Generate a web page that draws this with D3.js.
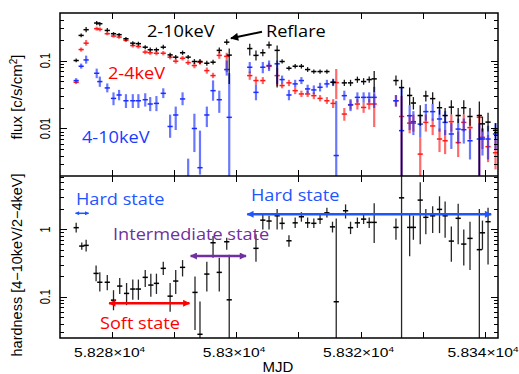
<!DOCTYPE html>
<html>
<head>
<meta charset="utf-8">
<script src="https://cdn.jsdelivr.net/npm/d3@7"></script>
<style>
  body { margin: 0; background: #fff; }
  svg { display: block; }
</style>
</head>
<body>
<svg id="chart" width="519" height="374"></svg>
<script>
// [MJD, value, lower bound, upper bound]
const flux2to10 = [
  [58274.3, 0.100, 0.094, 0.107], [58275.1, 0.234, 0.22, 0.25], [58275.9, 0.284, 0.26, 0.31],
  [58277.6, 0.356, 0.33, 0.38], [58278.1, 0.348, 0.32, 0.37], [58279.3, 0.277, 0.26, 0.30],
  [58280.3, 0.248, 0.235, 0.262], [58281.2, 0.240, 0.225, 0.255], [58282.3, 0.209, 0.195, 0.222],
  [58283.4, 0.180, 0.168, 0.192], [58284.3, 0.177, 0.165, 0.189], [58285.4, 0.157, 0.147, 0.168],
  [58286.2, 0.144, 0.134, 0.155], [58287.2, 0.144, 0.134, 0.155], [58288.3, 0.157, 0.146, 0.170],
  [58289.4, 0.121, 0.112, 0.130], [58290.3, 0.112, 0.104, 0.121], [58291.4, 0.130, 0.121, 0.140],
  [58292.3, 0.112, 0.104, 0.121], [58293.3, 0.0967, 0.089, 0.105], [58294.2, 0.0967, 0.089, 0.105],
  [58295.3, 0.0912, 0.084, 0.099], [58296.3, 0.0944, 0.087, 0.103], [58297.3, 0.141, 0.128, 0.155],
  [58298.5, 0.186, 0.170, 0.205], [58298.9, 0.12, 0.045, 0.15], [58302.2, 0.150, 0.119, 0.177],
  [58303.2, 0.119, 0.100, 0.140], [58304.3, 0.130, 0.116, 0.146], [58305.3, 0.169, 0.150, 0.190],
  [58306.6, 0.141, 0.040, 0.166], [58307.4, 0.0967, 0.090, 0.104], [58308.5, 0.0769, 0.071, 0.083],
  [58309.5, 0.0824, 0.076, 0.089], [58310.5, 0.0824, 0.076, 0.089], [58311.5, 0.0736, 0.068, 0.080],
  [58312.5, 0.0688, 0.064, 0.074], [58313.5, 0.0688, 0.064, 0.074], [58314.6, 0.0688, 0.064, 0.074],
  [58315.6, 0.0478, 0.043, 0.053], [58317.4, 0.0469, 0.042, 0.052], [58318.4, 0.0469, 0.042, 0.052],
  [58319.5, 0.0524, 0.047, 0.058], [58320.5, 0.049, 0.044, 0.055], [58321.4, 0.0524, 0.047, 0.058],
  [58322.2, 0.0537, 0.034, 0.070], [58325.7, 0.0507, 0.043, 0.060], [58326.6, 0.040, 0.0018, 0.052],
  [58327.9, 0.0306, 0.022, 0.040], [58328.5, 0.0237, 0.019, 0.029], [58329.6, 0.0155, 0.011, 0.022],
  [58330.5, 0.0301, 0.025, 0.036], [58331.6, 0.0275, 0.023, 0.034], [58332.7, 0.0202, 0.016, 0.025],
  [58333.6, 0.0155, 0.012, 0.020], [58334.6, 0.0206, 0.016, 0.026], [58335.7, 0.0155, 0.012, 0.020],
  [58336.6, 0.0202, 0.016, 0.026], [58337.6, 0.015, 0.011, 0.020], [58339.1, 0.0155, 0.0018, 0.025],
  [58339.6, 0.0117, 0.009, 0.015], [58340.5, 0.0124, 0.009, 0.017], [58341.7, 0.0094, 0.007, 0.012]
];
const flux2to4 = [
  [58274.3, 0.0478, 0.045, 0.051], [58275.1, 0.145, 0.135, 0.155], [58275.9, 0.180, 0.165, 0.200],
  [58277.6, 0.294, 0.275, 0.315], [58278.1, 0.287, 0.268, 0.307], [58279.3, 0.248, 0.235, 0.262],
  [58280.3, 0.229, 0.217, 0.242], [58281.2, 0.221, 0.209, 0.234], [58282.3, 0.198, 0.187, 0.210],
  [58283.4, 0.166, 0.155, 0.177], [58284.3, 0.161, 0.150, 0.172], [58285.4, 0.133, 0.124, 0.143],
  [58286.2, 0.130, 0.121, 0.140], [58287.2, 0.128, 0.119, 0.138], [58288.3, 0.128, 0.119, 0.138],
  [58289.4, 0.112, 0.104, 0.121], [58290.3, 0.0977, 0.090, 0.106], [58291.4, 0.108, 0.100, 0.117],
  [58292.3, 0.093, 0.086, 0.101], [58293.3, 0.0843, 0.077, 0.092], [58294.2, 0.0944, 0.087, 0.102],
  [58295.3, 0.0711, 0.064, 0.079], [58296.3, 0.060, 0.055, 0.066], [58297.3, 0.119, 0.106, 0.133],
  [58298.5, 0.115, 0.068, 0.13], [58302.2, 0.060, 0.052, 0.069], [58303.2, 0.0507, 0.044, 0.058],
  [58304.3, 0.0507, 0.045, 0.057], [58305.3, 0.0824, 0.074, 0.092], [58306.6, 0.060, 0.042, 0.078],
  [58307.4, 0.0428, 0.039, 0.047], [58308.5, 0.0469, 0.042, 0.052], [58309.5, 0.036, 0.032, 0.040],
  [58310.5, 0.0322, 0.029, 0.036], [58311.5, 0.0322, 0.029, 0.036], [58312.5, 0.0304, 0.027, 0.034],
  [58313.5, 0.0277, 0.025, 0.031], [58314.6, 0.0256, 0.023, 0.029], [58315.6, 0.0234, 0.020, 0.027],
  [58316.1, 0.0473, 0.027, 0.075], [58317.4, 0.0163, 0.013, 0.020], [58318.4, 0.0224, 0.019, 0.026],
  [58319.5, 0.0229, 0.019, 0.027], [58320.5, 0.0204, 0.017, 0.024], [58321.4, 0.0229, 0.019, 0.027],
  [58322.2, 0.0229, 0.0105, 0.032], [58325.7, 0.0256, 0.021, 0.031], [58326.6, 0.015, 0.0018, 0.03],
  [58327.9, 0.012, 0.0085, 0.016], [58328.5, 0.012, 0.009, 0.016], [58329.6, 0.0042, 0.0018, 0.0075],
  [58330.5, 0.0123, 0.009, 0.016], [58331.6, 0.0109, 0.008, 0.014], [58332.7, 0.007, 0.0045, 0.010],
  [58333.6, 0.0066, 0.0042, 0.0095], [58334.6, 0.0126, 0.009, 0.016], [58335.7, 0.0062, 0.0038, 0.009],
  [58336.6, 0.0123, 0.009, 0.016], [58337.6, 0.0103, 0.007, 0.014], [58339.1, 0.0146, 0.0018, 0.016],
  [58339.6, 0.0074, 0.005, 0.010], [58340.5, 0.0054, 0.0032, 0.008], [58341.7, 0.0044, 0.0025, 0.007]
];
const flux4to10 = [
  [58274.3, 0.0507, 0.047, 0.055], [58275.1, 0.0824, 0.076, 0.090], [58275.9, 0.102, 0.090, 0.118],
  [58277.6, 0.0649, 0.055, 0.076], [58278.1, 0.049, 0.041, 0.058], [58279.3, 0.0395, 0.034, 0.046],
  [58280.3, 0.0277, 0.022, 0.034], [58281.2, 0.0311, 0.026, 0.037], [58282.3, 0.0256, 0.020, 0.032],
  [58283.4, 0.0256, 0.020, 0.032], [58284.3, 0.0256, 0.020, 0.032], [58285.4, 0.0265, 0.021, 0.033],
  [58286.2, 0.0229, 0.018, 0.029], [58287.2, 0.0234, 0.018, 0.030], [58288.3, 0.0329, 0.028, 0.039],
  [58289.4, 0.0107, 0.0073, 0.016], [58290.3, 0.0158, 0.0095, 0.021], [58291.4, 0.0272, 0.022, 0.034],
  [58292.3, 0.0019, 0.001, 0.0036], [58293.3, 0.010, 0.0045, 0.0165], [58294.2, 0.00265, 0.0021, 0.0093],
  [58295.3, 0.0158, 0.0105, 0.021], [58296.3, 0.036, 0.0256, 0.051], [58297.3, 0.0265, 0.017, 0.036],
  [58298.5, 0.0736, 0.06, 0.10], [58298.9, 0.0146, 0.0015, 0.065], [58302.2, 0.0796, 0.065, 0.095],
  [58303.2, 0.034, 0.026, 0.044], [58304.3, 0.0796, 0.065, 0.095], [58305.3, 0.0843, 0.07, 0.1],
  [58306.6, 0.0894, 0.045, 0.1], [58307.4, 0.0524, 0.046, 0.060], [58308.5, 0.0311, 0.026, 0.037],
  [58309.5, 0.0453, 0.040, 0.052], [58310.5, 0.0507, 0.045, 0.057], [58311.5, 0.0382, 0.033, 0.044],
  [58312.5, 0.0369, 0.032, 0.043], [58313.5, 0.0404, 0.035, 0.047], [58314.6, 0.0453, 0.040, 0.052],
  [58315.6, 0.0478, 0.042, 0.054], [58316.1, 0.004, 0.0015, 0.0256], [58317.4, 0.0304, 0.026, 0.036],
  [58318.4, 0.0222, 0.018, 0.027], [58319.5, 0.0287, 0.024, 0.034], [58320.5, 0.0287, 0.024, 0.034],
  [58321.4, 0.0287, 0.024, 0.034], [58322.2, 0.0287, 0.020, 0.041], [58325.7, 0.0256, 0.021, 0.031],
  [58326.6, 0.0093, 0.0015, 0.040], [58327.9, 0.0154, 0.0095, 0.022], [58328.5, 0.0126, 0.008, 0.018],
  [58329.6, 0.0116, 0.0075, 0.016], [58330.5, 0.0177, 0.013, 0.023], [58331.6, 0.0177, 0.013, 0.023],
  [58332.7, 0.0138, 0.009, 0.019], [58333.6, 0.0123, 0.008, 0.018], [58334.6, 0.0083, 0.005, 0.012],
  [58335.7, 0.0098, 0.006, 0.014], [58336.6, 0.0096, 0.006, 0.014], [58337.6, 0.0066, 0.0035, 0.0098],
  [58339.1, 0.007, 0.0015, 0.012], [58339.6, 0.007, 0.004, 0.010], [58340.5, 0.007, 0.0035, 0.011],
  [58341.7, 0.0083, 0.005, 0.012]
];
const hardness = [
  [58274.3, 1.06, 0.90, 1.25], [58275.2, 0.565, 0.50, 0.64], [58275.9, 0.579, 0.47, 0.70],
  [58277.5, 0.222, 0.17, 0.29], [58278.1, 0.164, 0.12, 0.23], [58279.3, 0.164, 0.125, 0.21],
  [58280.3, 0.089, 0.063, 0.125], [58281.3, 0.144, 0.11, 0.19], [58282.4, 0.112, 0.075, 0.16],
  [58283.4, 0.13, 0.09, 0.18], [58284.3, 0.13, 0.09, 0.18], [58285.4, 0.194, 0.14, 0.25],
  [58286.3, 0.149, 0.10, 0.22], [58287.2, 0.158, 0.11, 0.22], [58288.3, 0.264, 0.21, 0.33],
  [58289.4, 0.102, 0.06, 0.16], [58290.3, 0.171, 0.11, 0.25], [58291.4, 0.273, 0.20, 0.35],
  [58293.4, 0.116, 0.032, 0.20], [58294.2, 0.0277, 0.024, 0.085], [58295.3, 0.217, 0.12, 0.33],
  [58296.3, 0.633, 0.38, 0.80], [58297.3, 0.230, 0.12, 0.38], [58298.5, 0.655, 0.50, 0.75],
  [58298.9, 0.09, 0.02, 0.42], [58303.2, 0.523, 0.33, 0.85], [58304.3, 1.37, 1.0, 1.7],
  [58305.3, 1.33, 1.0, 1.6], [58306.6, 1.59, 1.0, 2.0], [58307.4, 1.23, 1.0, 1.5],
  [58308.5, 0.677, 0.55, 0.82], [58309.5, 1.25, 1.05, 1.5], [58310.5, 1.54, 1.3, 1.8],
  [58311.5, 1.25, 1.05, 1.5], [58312.5, 1.23, 1.05, 1.45], [58313.5, 1.42, 1.2, 1.7],
  [58314.6, 1.76, 1.5, 2.1], [58315.5, 1.09, 0.9, 1.3], [58316.1, 0.0843, 0.02, 1.45],
  [58317.6, 1.89, 1.45, 2.35], [58318.4, 1.06, 0.85, 1.3], [58319.5, 1.25, 1.05, 1.5],
  [58320.5, 1.42, 1.2, 1.7], [58321.4, 1.27, 1.05, 1.5], [58322.2, 1.27, 0.63, 2.45],
  [58325.7, 1.07, 0.7, 1.45], [58326.6, 2.94, 0.02, 6.5], [58327.9, 1.07, 0.4, 1.7],
  [58328.5, 1.07, 0.7, 1.6], [58329.6, 2.72, 0.6, 5.0], [58330.5, 1.51, 0.85, 2.0],
  [58331.6, 1.59, 0.88, 2.2], [58332.7, 1.98, 0.88, 3.1], [58333.6, 1.59, 0.75, 2.6],
  [58334.6, 0.67, 0.33, 1.1], [58335.7, 1.46, 0.6, 2.4], [58336.6, 0.605, 0.29, 1.0],
  [58337.6, 0.735, 0.25, 1.3], [58339.1, 0.5, 0.02, 2.0], [58339.6, 0.89, 0.5, 1.35],
  [58340.5, 1.30, 0.3, 2.1]
];

const xTicks = [58280, 58290, 58300, 58310, 58320, 58330, 58340];
const xLabels = [[58280, '5.828'], [58300, '5.83'], [58320, '5.832'], [58340, '5.834']];
const fluxLabels = [[0.1, '0.1'], [0.01, '0.01']];
const hardLabels = [[1, '1'], [0.1, '0.1']];

// state annotations: [from MJD, to MJD]
const hardState1 = [58274.2, 58276.3];
const softState = [58279.6, 58292.5];
const interState = [58292.7, 58301.6];
const hardState2 = [58301.8, 58341.0];

const svg = d3.select('#chart');
const L = 60, R = 498, T = 13, M = 176, B = 338;
const XERR = 0.42;

const x = d3.scaleLinear().domain([58271.7, 58342.1]).range([L, R]);
const yF = d3.scaleLog().domain([0.002, 0.5]).range([M, T]);
const yH = d3.scaleLog().domain([0.0244, 6.2]).range([B, M]);

svg.append('rect').attr('width', 519).attr('height', 374).attr('fill', '#fff');

const defs = svg.append('defs');
defs.append('clipPath').attr('id', 'clipTop').append('rect')
  .attr('x', L).attr('y', T).attr('width', R - L).attr('height', M - T);
defs.append('clipPath').attr('id', 'clipBot').append('rect')
  .attr('x', L).attr('y', M).attr('width', R - L).attr('height', B - M);

function mkArrow(id, color, w, h) {
  defs.append('marker').attr('id', id)
    .attr('viewBox', '0 0 10 10').attr('refX', 9).attr('refY', 5)
    .attr('markerUnits', 'userSpaceOnUse')
    .attr('markerWidth', w).attr('markerHeight', h)
    .attr('orient', 'auto-start-reverse')
    .append('path').attr('d', 'M0,0L10,5L0,10z').attr('fill', color);
}
mkArrow('arBlue', '#1f55ff', 8, 7);
mkArrow('arBlueS', '#1f55ff', 5, 4);
mkArrow('arRed', '#ff0000', 8, 7);
mkArrow('arPurple', '#7030a0', 8, 7);
mkArrow('arBlack', '#000', 9, 8);

function drawSeries(g, data, y, color, opacity, sw) {
  const [d0, d1] = y.domain();
  const cl = v => Math.max(d0 * 0.5, Math.min(d1 * 2, v));
  const pts = g.append('g').attr('stroke', color).attr('stroke-opacity', opacity)
    .attr('stroke-width', sw)
    .selectAll('g').data(data).enter().append('g');
  pts.append('line')
    .attr('x1', d => x(d[0])).attr('x2', d => x(d[0]))
    .attr('y1', d => y(cl(d[2]))).attr('y2', d => y(cl(d[3])));
  pts.filter(d => d[1] >= d0).append('line')
    .attr('stroke-opacity', 1).attr('stroke-width', 1.5)
    .attr('x1', d => x(d[0] - XERR)).attr('x2', d => x(d[0] + XERR))
    .attr('y1', d => y(d[1])).attr('y2', d => y(d[1]));
}

const gTop = svg.append('g').attr('clip-path', 'url(#clipTop)');
drawSeries(gTop, flux2to4, yF, '#ff1a1a', 0.65, 2.2);
drawSeries(gTop, flux4to10, yF, '#1a2eff', 0.65, 2.2);
drawSeries(gTop, flux2to10, yF, '#000', 0.9, 1.3);

const gBot = svg.append('g').attr('clip-path', 'url(#clipBot)');
drawSeries(gBot, hardness, yH, '#000', 0.85, 1.3);

// ticks (inward)
function yTicks(y, y0, y1) {
  const major = y.ticks().filter(v => Math.abs(Math.log10(v) - Math.round(Math.log10(v))) < 1e-6);
  const g = svg.append('g').attr('stroke', '#000').attr('stroke-width', 1);
  y.ticks().forEach(v => {
    const len = major.includes(v) ? 7 : 4;
    const yy = Math.round(y(v)) + 0.5;
    if (yy < y1 + 1 || yy > y0 - 1) return;
    g.append('line').attr('x1', L).attr('x2', L + len).attr('y1', yy).attr('y2', yy);
    g.append('line').attr('x1', R).attr('x2', R - len).attr('y1', yy).attr('y2', yy);
  });
}
yTicks(yF, M, T);
yTicks(yH, B, M);

const gx = svg.append('g').attr('stroke', '#000').attr('stroke-width', 1);
xTicks.forEach(v => {
  const xx = Math.round(x(v)) + 0.5;
  [[T, 6], [M, -6], [M, 6], [B, -6]].forEach(([y0, dl]) => {
    gx.append('line').attr('x1', xx).attr('x2', xx).attr('y1', y0).attr('y2', y0 + dl);
  });
});

// frame
svg.append('rect').attr('x', L).attr('y', T).attr('width', R - L).attr('height', B - T)
  .attr('fill', 'none').attr('stroke', '#000').attr('stroke-width', 1.5);
svg.append('line').attr('x1', L).attr('x2', R).attr('y1', M).attr('y2', M)
  .attr('stroke', '#000').attr('stroke-width', 1.5);

// tick labels
const SANS = '"Liberation Sans", Arial, sans-serif';
xLabels.forEach(([v, s]) => {
  const t = svg.append('text').attr('transform', `translate(${x(v) - 2},357) scale(1.25,1)`)
    .attr('text-anchor', 'middle').attr('font-family', SANS).attr('font-size', 12.5);
  t.append('tspan').text(s + '×10');
  t.append('tspan').attr('dy', -5).attr('font-size', 8).text('4');
});
svg.append('text').attr('x', 278).attr('y', 371.5)
  .attr('text-anchor', 'middle').attr('font-family', SANS).attr('font-size', 15).text('MJD');

function yLabel(y, [v, s]) {
  svg.append('text').attr('transform', `translate(50,${y(v)}) scale(1.3,1) rotate(-90)`)
    .attr('text-anchor', 'middle').attr('font-family', SANS).attr('font-size', 11).text(s);
}
fluxLabels.forEach(d => yLabel(yF, d));
hardLabels.forEach(d => yLabel(yH, d));

svg.append('text').attr('transform', 'translate(22,97) rotate(-90)')
  .attr('text-anchor', 'middle').attr('font-family', SANS).attr('font-size', 15)
  .html('flux [c/s/cm<tspan dy="-5" font-size="10">2</tspan><tspan dy="5">]</tspan>');
svg.append('text').attr('transform', 'translate(22,265) rotate(-90)')
  .attr('text-anchor', 'middle').attr('font-family', SANS).attr('font-size', 14.5)
  .text('hardness [4\u221210keV/2\u22124keV]');

// annotations
const CAL = '"Open Sans", "Noto Sans", sans-serif';
function note(x0, y0, s, color) {
  svg.append('text').attr('transform', `translate(${x0},${y0}) scale(1.1,1)`)
    .attr('font-family', CAL).attr('font-size', 16.5).attr('fill', color).text(s);
}
note(147, 37, '2-10keV', '#000');
note(266, 37, 'Reflare', '#000');
note(108, 79, '2-4keV', '#ff0000');
note(82, 142.5, '4-10keV', '#1a3cff');
note(76, 205, 'Hard state', '#1f55ff');
note(251, 201, 'Hard state', '#1f55ff');
note(113, 240, 'Intermediate state', '#7030a0');
note(100, 329, 'Soft state', '#ff0000');

svg.append('line').attr('x1', 262).attr('y1', 31.7).attr('x2', 231).attr('y2', 38.3)
  .attr('stroke', '#000').attr('stroke-width', 2).attr('marker-end', 'url(#arBlack)');

function dbl(range, yy, color, marker, sw) {
  svg.append('line').attr('x1', x(range[0])).attr('x2', x(range[1]))
    .attr('y1', yy).attr('y2', yy).attr('stroke', color).attr('stroke-width', sw)
    .attr('marker-start', `url(#${marker})`).attr('marker-end', `url(#${marker})`);
}
dbl(hardState1, 213.3, '#1f55ff', 'arBlueS', 1.5);
dbl(softState, 303.3, '#ff0000', 'arRed', 2.5);
dbl(interState, 256, '#7030a0', 'arPurple', 2.5);
dbl(hardState2, 214.3, '#1f55ff', 'arBlue', 2.5);
</script>
</body>
</html>
